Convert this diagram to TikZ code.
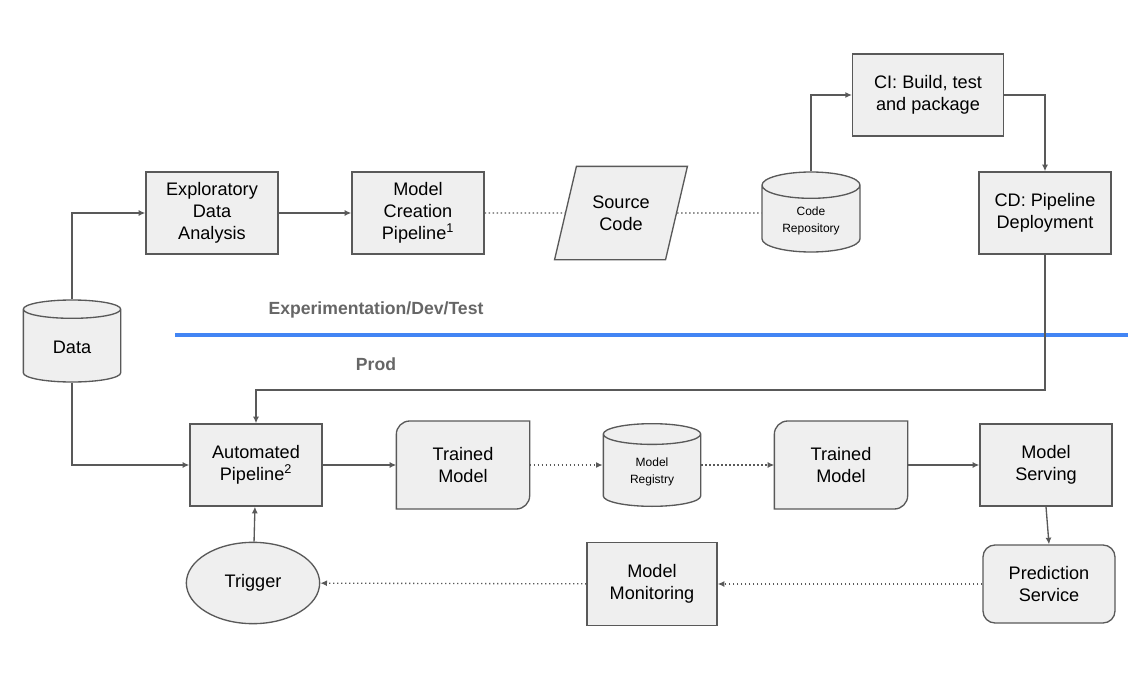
\documentclass[tikz,border=0pt]{standalone}
\usepackage{fontspec}
\setmainfont{Liberation Sans}
\usetikzlibrary{shapes.geometric,arrows.meta}
\definecolor{boxfill}{HTML}{EFEFEF}
\definecolor{boxline}{HTML}{595959}
\definecolor{devblue}{HTML}{4285F4}
\definecolor{lblgray}{HTML}{666666}
\tikzset{
  box/.style={draw=boxline, fill=boxfill, line width=1pt, rectangle, align=center,
    minimum width=99pt, minimum height=61.5pt, inner sep=2pt,
    font=\fontsize{13.6}{16.5}\selectfont},
  plain/.style={box, draw=none, fill=none},
  db/.style={box, cylinder, shape border rotate=90, aspect=0.42, anchor=shape center,
    minimum width=73pt, minimum height=61.5pt},
  small/.style={font=\fontsize{9}{12.75}\selectfont},
  lbl/.style={font=\fontsize{13.2}{15}\selectfont\bfseries, text=lblgray},
  arr/.style={draw=boxline, line width=1pt, -{Latex[length=5pt,width=4.5pt]}},
  dot/.style={draw=boxline, line width=1pt, dotted},
  dotarr/.style={dot, -{Latex[length=5pt,width=4.5pt]}},
}
\begin{document}
\begin{tikzpicture}
  \begin{scope}[x=0.75pt,y=-0.75pt]
    \useasboundingbox (0,0) rectangle (1147,678);
    % experimentation
    \node [db] (data) at (72,341) {Data};
    \node [box] (eda) at (212,213) {Exploratory\\Data\\Analysis};
    \node [box] (mcp) at (418,213) {Model\\Creation\\Pipeline\textsuperscript{1}};
    \node [box, trapezium, trapezium left angle=69, trapezium right angle=111,
      trapezium stretches=true, minimum width=100pt, minimum height=70pt] (src) at (621,213) {Source\\Code};
    \node [db, small, minimum width=73.5pt, minimum height=60pt] (repo) at (811,212) {Code\\Repository};
    \node [box, minimum width=113pt] (ci) at (928,95) {CI: Build, test\\and package};
    \node [box] (cd) at (1045,213) {CD: Pipeline\\Deployment};
    \draw [arr] (data.north) |- (eda.west);
    \draw [arr] (eda) -- (mcp);
    \draw [dot] (mcp) -- (src);
    \draw [dot] (src) -- (repo.west |- src);
    \draw [arr] (repo.north) |- (ci.west);
    \draw [arr] (ci.east) -| (cd.north);
    % split
    \draw [devblue, line width=3pt] (175,335) -- (1128,335);
    \node [lbl] (dev) at (376,310) {Experimentation/Dev/Test};
    \node [lbl] (prod) at (376,364) {Prod};
    % production
    \node [box] (auto) at (256,465) {Automated\\Pipeline\textsuperscript{2}};
    \node [plain, minimum height=65pt] (tma) at (463,465) {Trained\\Model};
    \node [db, small, minimum height=62pt] (reg) at (652,465) {Model\\Registry};
    \node [plain, minimum height=65pt] (tmb) at (841,465) {Trained\\Model};
    \node [box] (serve) at (1046,465) {Model\\Serving};
    \node [box, rounded corners=9pt, minimum height=58.5pt] (pred) at (1049,584) {Prediction\\Service};
    \node [box, minimum width=97.5pt, minimum height=62pt] (mon) at (652,584) {Model\\Monitoring};
    \node [box, ellipse, minimum width=100pt, minimum height=61pt] (trig) at (253,583) {Trigger};
    \foreach \t in {tma,tmb}
      \draw [draw=boxline, fill=boxfill, line width=1pt]
        (\t.south west) -- ([yshift=-10pt]\t.north west) arc[start angle=180, end angle=90, radius=10pt]
        -- (\t.north east) -- ([yshift=10pt]\t.south east) arc[start angle=0, end angle=-90, radius=10pt]
        -- cycle;
    \node [plain, minimum height=65pt] at (tma) {Trained\\Model};
    \node [plain, minimum height=65pt] at (tmb) {Trained\\Model};
    \coordinate (turn) at (256,390);
    \draw [arr] (cd.south) |- (turn) -- (auto.north);
    \draw [arr] (data.south) |- (auto.west);
    \draw [arr] (auto) -- (tma);
    \draw [dotarr] (tma.east) -- (reg.west |- tma.east);
    \draw [dotarr] (reg.east |- tmb.west) -- (tmb.west);
    \draw [arr] (tmb) -- (serve);
    \draw [arr] (serve.south) -- (pred.north);
    \draw [dotarr] (pred) -- (mon);
    \draw [dotarr] (mon) -- (trig);
    \draw [arr] (trig) -- (auto);
  \end{scope}
\end{tikzpicture}
\end{document}
